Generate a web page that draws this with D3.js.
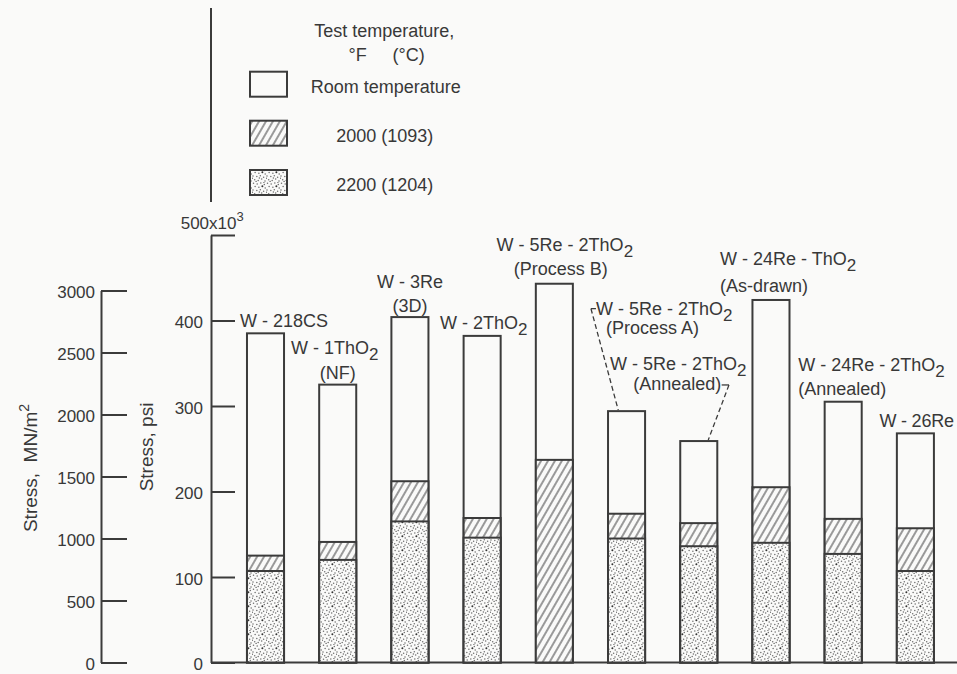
<!DOCTYPE html>
<html>
<head>
<meta charset="utf-8">
<script src="https://cdn.jsdelivr.net/npm/d3@7"></script>
<style>
  body { margin: 0; background: #fafaf9; }
  svg { display: block; }
  text { font-family: "Liberation Sans", Arial, sans-serif; fill: #383838; white-space: pre; }
</style>
</head>
<body>
<svg id="chart" width="957" height="674"></svg>
<script>
// ---- data: ultimate tensile strength, thousands of psi ----
const alloys = ["W-218CS", "W-1ThO2 NF", "W-3Re 3D", "W-2ThO2", "W-5Re-2ThO2 B",
                "W-5Re-2ThO2 A", "W-5Re-2ThO2 ann", "W-24Re-ThO2 drawn", "W-24Re-2ThO2 ann", "W-26Re"];
const alloyLabels = [
  ["W - 218CS"],
  ["W - 1ThO_2", "(NF)"],
  ["W - 3Re", "(3D)"],
  ["W - 2ThO_2"],
  ["W - 5Re - 2ThO_2", "(Process B)"],
  ["W - 5Re - 2ThO_2", "(Process A)"],
  ["W - 5Re - 2ThO_2", "(Annealed)"],
  ["W - 24Re - ThO_2", "(As-drawn)"],
  ["W - 24Re - 2ThO_2", "(Annealed)"],
  ["W - 26Re"]
];
const roomTemp = [385, 325, 404, 382, 443, 294, 259, 424, 305, 268];
const at2000F  = [125, 141, 212, 169, 237, 174, 163, 205, 168, 157];
const at2200F  = [107, 120, 165, 146, null, 145, 136, 140, 127, 107];

const psiTicks = [0, 100, 200, 300, 400, 500];
const mnTicks  = [0, 500, 1000, 1500, 2000, 2500, 3000];
const legendTitle = ["Test temperature,", "°F", "(°C)"];
const legendItems = ["Room temperature", "2000 (1093)", "2200 (1204)"];
const KSI_PER_MN = 0.145038;

// ---- label placement relative to each bar (center x, top y) ----
const labelLayout = [
  { lines: [{ a: "start", dx: -25.5, dy: -6 }] },
  { lines: [{ a: "middle", dx: -3, dy: -30.5 }, { a: "middle", dx: 0, dy: -6 }] },
  { lines: [{ a: "middle", dx: 0, dy: -29 }, { a: "middle", dx: 0, dy: -5.5 }] },
  { lines: [{ a: "middle", dx: 1.5, dy: -7 }] },
  { lines: [{ a: "middle", dx: 10.5, dy: -33 }, { a: "middle", dx: 6.5, dy: -8.7 }] },
  { lines: [{ a: "start", dx: -30.6, dy: -96.5 }, { a: "start", dx: -20.6, dy: -77.3 }],
    leader: [[-30.6, -102.5], [-35.6, -102.5], [-8.3, -1]] },
  { lines: [{ a: "start", dx: -88.8, dy: -70.6 }, { a: "start", dx: -65.5, dy: -51 }],
    leader: [[22.9, -56.1], [30.2, -56.1], [9.5, -1.1]] },
  { lines: [{ a: "start", dx: -51, dy: -35 }, { a: "start", dx: -51, dy: -8.3 }] },
  { lines: [{ a: "start", dx: -45, dy: -31 }, { a: "start", dx: -45, dy: -6.7 }] },
  { lines: [{ a: "start", dx: -36, dy: -6.7, ls: -0.2 }] }
];

const INK = "#3b3b3b";
const BG = "#fafaf9";
const svg = d3.select("#chart");
svg.append("rect").attr("width", 957).attr("height", 674).attr("fill", BG);

// ---- fill patterns ----
const defs = svg.append("defs");
const hatch = defs.append("pattern").attr("id", "hatch")
  .attr("patternUnits", "userSpaceOnUse").attr("width", 6).attr("height", 6)
  .attr("patternTransform", "rotate(30)");
hatch.append("rect").attr("width", 6).attr("height", 6).attr("fill", BG);
hatch.append("line").attr("x1", 3).attr("x2", 3).attr("y1", 0).attr("y2", 6)
  .attr("stroke", "#4a4a4a").attr("stroke-width", 1.1);

const stipple = defs.append("pattern").attr("id", "stipple")
  .attr("patternUnits", "userSpaceOnUse").attr("width", 14).attr("height", 14);
stipple.append("rect").attr("width", 14).attr("height", 14).attr("fill", BG);
const dotSpots = [[1.5,1.2],[5.2,2.0],[8.8,0.9],[12.3,2.4],[3.1,4.6],[6.9,5.3],[10.4,4.2],[13.2,6.1],
                  [1.0,7.9],[4.8,8.6],[8.3,7.7],[11.6,9.3],[2.7,11.8],[6.2,12.4],[9.7,11.1],[13.0,13.0],
                  [7.4,9.9],[11.9,0.2],[0.3,10.2],[4.1,13.4]];
stipple.selectAll("circle").data(dotSpots).join("circle")
  .attr("cx", d => d[0]).attr("cy", d => d[1])
  .attr("r", (d, i) => i === 6 ? 1.0 : 0.75)
  .attr("fill", (d, i) => i === 6 ? "#333" : "#6e6e6e");

// ---- scales ----
const x = d3.scaleBand().domain(alloys).range([229.4, 951.5])
  .paddingInner(0.487).paddingOuter(0.2435);
const y = d3.scaleLinear().domain([0, 500]).range([662.5, 235]);
const yMN = d3.scaleLinear().domain([0, 3000]).range([y(0), y(3000 * KSI_PER_MN)]);

// ---- axes ----
const AX = 211, AXMN = 101;
const psiAxis = svg.append("g").attr("transform", `translate(${AX},0)`)
  .call(d3.axisLeft(y).tickValues(psiTicks).tickSize(-24).tickSizeOuter(0).tickPadding(8)
    .tickFormat(d => d === 500 ? "" : String(d)));
const mnAxis = svg.append("g").attr("transform", `translate(${AXMN},0)`)
  .call(d3.axisLeft(yMN).tickValues(mnTicks).tickSize(-26).tickSizeOuter(0).tickPadding(6)
    .tickFormat(d => String(d)));
[psiAxis, mnAxis].forEach(g => {
  g.select(".domain").attr("stroke", INK).attr("stroke-width", 2);
  g.selectAll(".tick line").attr("stroke", INK).attr("stroke-width", 2);
  g.selectAll(".tick text").attr("fill", "#383838").style("font-size", "17px")
    .style("font-family", "'Liberation Sans', Arial, sans-serif").attr("dy", "0.42em");
});

// scale multiplier label at the top of the psi axis
const scaleNote = svg.append("text").attr("x", 180.7).attr("y", 229).style("font-size", "17px");
scaleNote.append("tspan").text("500x10");
scaleNote.append("tspan").attr("dy", -8).style("font-size", "13px").text("3");

// upper rule line and baseline
svg.append("line").attr("x1", AX).attr("x2", AX).attr("y1", 8).attr("y2", 202)
  .attr("stroke", INK).attr("stroke-width", 2);
svg.append("line").attr("x1", AX).attr("x2", 957).attr("y1", y(0)).attr("y2", y(0))
  .attr("stroke", INK).attr("stroke-width", 2);

// axis titles
const t1 = svg.append("text").attr("transform", "translate(36.5,468) rotate(-90)")
  .attr("text-anchor", "middle").style("font-size", "19px");
t1.append("tspan").text("Stress,  MN/m");
t1.append("tspan").attr("dy", -8).style("font-size", "14px").text("2");
svg.append("text").attr("transform", "translate(153,447) rotate(-90)")
  .attr("text-anchor", "middle").style("font-size", "19px").text("Stress, psi");

// ---- bars: each temperature drawn from zero, overlaid ----
const bars = svg.append("g");
const layers = [
  { vals: roomTemp, fill: BG },
  { vals: at2000F, fill: "url(#hatch)" },
  { vals: at2200F, fill: "url(#stipple)" }
];
layers.forEach(L => {
  bars.append("g").selectAll("rect")
    .data(alloys.map((a, i) => ({ a, v: L.vals[i] })).filter(d => d.v != null))
    .join("rect")
    .attr("x", d => x(d.a)).attr("width", x.bandwidth())
    .attr("y", d => y(d.v)).attr("height", d => y(0) - y(d.v))
    .attr("fill", L.fill).attr("stroke", INK).attr("stroke-width", 2);
});

// ---- bar labels ----
function richText(sel, str) {
  str.split(/(_\d)/).filter(s => s.length).forEach(part => {
    if (part[0] === "_") sel.append("tspan").attr("dy", 6).style("font-size", "17px").text(part.slice(1));
    else sel.append("tspan").text(part);
  });
}
const labels = svg.append("g").style("font-size", "18px");
alloys.forEach((a, i) => {
  const cx = x(a) + x.bandwidth() / 2, ty = y(roomTemp[i]);
  const L = labelLayout[i];
  L.lines.forEach((ln, j) => {
    const t = labels.append("text").attr("x", cx + ln.dx).attr("y", ty + ln.dy)
      .attr("text-anchor", ln.a);
    if (ln.ls) t.style("letter-spacing", ln.ls + "px");
    richText(t, alloyLabels[i][j]);
  });
  if (L.leader) {
    const p = L.leader.map(d => [cx + d[0], ty + d[1]]);
    labels.append("line").attr("x1", p[0][0]).attr("y1", p[0][1]).attr("x2", p[1][0]).attr("y2", p[1][1])
      .attr("stroke", INK).attr("stroke-width", 1.3);
    labels.append("line").attr("x1", p[1][0]).attr("y1", p[1][1]).attr("x2", p[2][0]).attr("y2", p[2][1])
      .attr("stroke", INK).attr("stroke-width", 1.3).attr("stroke-dasharray", "5,3");
  }
});

// ---- legend ----
const lg = svg.append("g").style("font-size", "18px");
lg.append("text").attr("x", 314.3).attr("y", 36.7).text(legendTitle[0]);
lg.append("text").attr("x", 348.5).attr("y", 60.5).text(legendTitle[1]);
lg.append("text").attr("x", 392.5).attr("y", 60.5).text(legendTitle[2]);
const legFills = [BG, "url(#hatch)", "url(#stipple)"];
const legY = [71.7, 120.7, 170];
legendItems.forEach((txt, i) => {
  lg.append("rect").attr("x", 250).attr("y", legY[i]).attr("width", 37).attr("height", 25)
    .attr("fill", legFills[i]).attr("stroke", INK).attr("stroke-width", 2);
  lg.append("text").attr("x", i === 0 ? 310.7 : 384.7).attr("y", legY[i] + 21)
    .attr("text-anchor", i === 0 ? "start" : "middle").text(txt);
});
</script>
</body>
</html>
